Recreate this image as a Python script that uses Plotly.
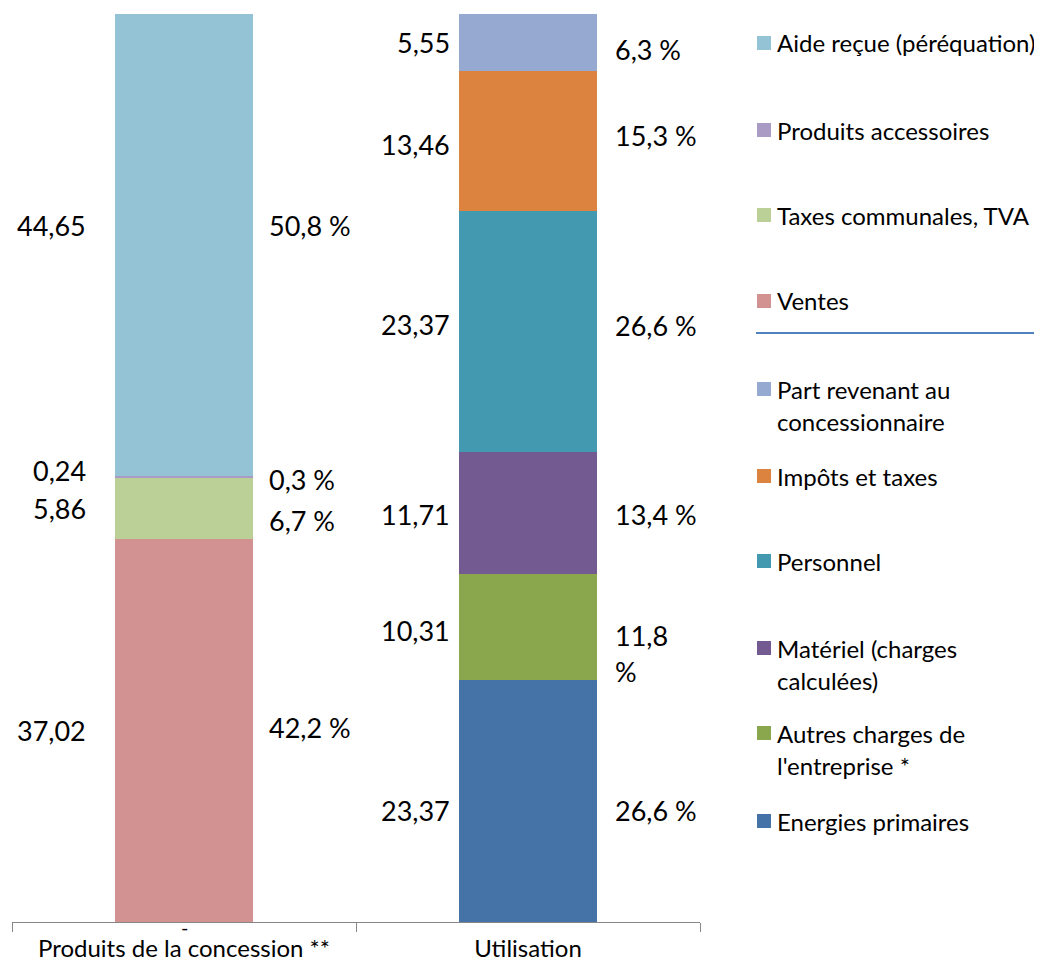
import plotly.graph_objects as go

categories = ["Produits de la concession **", "Utilisation"]

produits_names = ["Ventes", "Taxes communales, TVA", "Produits accessoires", "Aide reçue (péréquation)"]
produits_values = [37.02, 5.86, 0.24, 44.65]
produits_pct = ["42,2 %", "6,7 %", "0,3 %", "50,8 %"]
produits_colors = ["#D39292", "#BBD096", "#A99BC4", "#93C3D4"]

utilisation_names = ["Energies primaires", "Autres charges de l'entreprise *", "Matériel (charges calculées)",
                     "Personnel", "Impôts et taxes", "Part revenant au concessionnaire"]
utilisation_values = [23.37, 10.31, 11.71, 23.37, 13.46, 5.55]
utilisation_pct = ["26,6 %", "11,8<br>%", "13,4 %", "26,6 %", "15,3 %", "6,3 %"]
utilisation_colors = ["#4572A7", "#8BA74E", "#735A91", "#4299B0", "#DC843F", "#95A9D1"]

# small nudges (px) of the data labels, as dragged in the original
produits_val_shift = [0, 0, 7, 19]
produits_pct_shift = [3, -12, -2, 19]
utilisation_val_shift = [-9, -4, -1, 7, -3, 0]
utilisation_pct_shift = [-9, -9, -1, 6, 6, -7]

# legend line breaks
legend_wrap = {"Part revenant au concessionnaire": ["Part revenant au", "concessionnaire"],
               "Matériel (charges calculées)": ["Matériel (charges", "calculées)"],
               "Autres charges de l'entreprise *": ["Autres charges de", "l'entreprise *"]}

FONT = "Lato"
OFF = 8  # page body margin
W, H = 1042 - 2 * OFF, 970 - 2 * OFF
L, R, T, B = 12 - OFF, 700 - OFF, 14 - OFF, 922 - OFF


def px_x(p):
    return (p - OFF - L) / (R - L)


def px_y(p):
    return (B - (p - OFF)) / (B - T)


fig = go.Figure()
annotations = []
shapes = []

bars = [(categories[0], produits_names, produits_values, produits_pct, produits_colors, produits_val_shift, produits_pct_shift, -96, 83),
        (categories[1], utilisation_names, utilisation_values, utilisation_pct, utilisation_colors, utilisation_val_shift, utilisation_pct_shift, -76, 85)]

for cat, names, values, pcts, colors, vshift, pshift, vx, px in bars:
    base = 0
    for i, (n, v, pc, c) in enumerate(zip(names, values, pcts, colors)):
        fig.add_trace(go.Bar(x = [cat], y = [v], name = n, marker = dict(color = c, line = dict(width = 0)), width = 0.4, showlegend = False))
        mid = base + v / 2
        annotations.append(dict(x = cat, y = mid, xref = 'x', yref = 'y', text = f"{v:.2f}".replace(".", ","), showarrow = False,
                                xanchor = 'right', xshift = vx, yshift = vshift[i], font = dict(size = 27, color = '#000000', family = FONT)))
        for j, line in enumerate(pc.split("<br>")):
            annotations.append(dict(x = cat, y = mid, xref = 'x', yref = 'y', text = line, showarrow = False,
                                    xanchor = 'left', xshift = px, yshift = pshift[i] - 36 * j, font = dict(size = 27, color = '#000000', family = FONT)))
        base += v

annotations.append(dict(x = categories[0], y = 0, xref = 'x', yref = 'y', text = "-", showarrow = False, yshift = -5,
                        font = dict(size = 20, color = '#000000', family = FONT)))

# custom legend
legend_items = list(zip(produits_names, produits_colors))[::-1] + list(zip(utilisation_names, utilisation_colors))[::-1]
legend_y = [43, 130, 215, 301, 389, 476, 561, 648, 733, 821]
for (n, c), ly in zip(legend_items, legend_y):
    shapes.append(dict(type = 'rect', xref = 'paper', yref = 'paper', x0 = px_x(757), x1 = px_x(771), y0 = px_y(ly + 7), y1 = px_y(ly - 7),
                       fillcolor = c, line = dict(width = 0)))
    for j, line in enumerate(legend_wrap.get(n, [n])):
        annotations.append(dict(x = px_x(775), y = px_y(ly + 32 * j), xref = 'paper', yref = 'paper', text = line, showarrow = False,
                                xanchor = 'left', yanchor = 'middle', font = dict(size = 24, color = '#000000', family = FONT)))
shapes.append(dict(type = 'line', xref = 'paper', yref = 'paper', x0 = px_x(756), x1 = px_x(1040), y0 = px_y(333), y1 = px_y(333),
                   line = dict(color = '#4F81BD', width = 2)))

fig.update_layout(barmode = 'stack', width = W, height = H, margin = dict(l = L, r = W - R, t = T, b = H - B),
                  plot_bgcolor = '#FFFFFF', paper_bgcolor = '#FFFFFF', showlegend = False,
                  annotations = annotations, shapes = shapes, font = dict(family = FONT, size = 24, color = '#000000'))
fig.update_xaxes(type = 'category', range = [-0.5, 1.5], showline = True, linecolor = '#868686', linewidth = 1,
                 ticks = 'outside', tickson = 'boundaries', ticklen = 9, tickcolor = '#868686', showgrid = False, automargin = False,
                 ticklabelstandoff = 5, tickfont = dict(size = 24, family = FONT, color = '#000000'))
fig.update_yaxes(range = [0, sum(produits_values)], visible = False, showgrid = False, automargin = False)

fig.write_html("out.html")
